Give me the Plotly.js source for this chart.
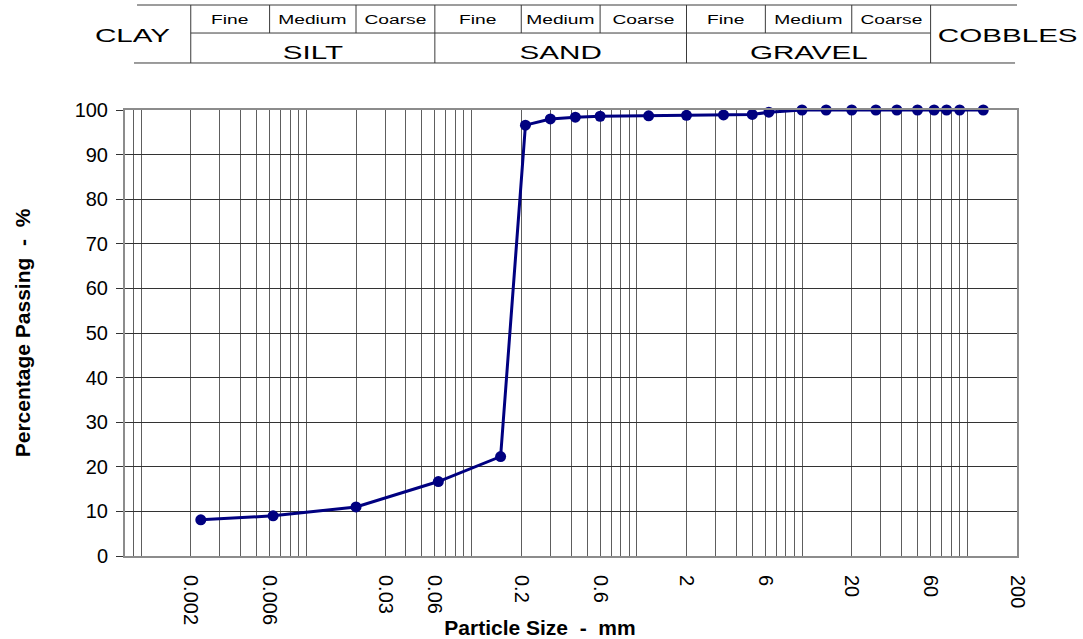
<!DOCTYPE html>
<html>
<head>
<meta charset="utf-8">
<script src="https://cdn.plot.ly/plotly-3.0.1.min.js"></script>
<style>
  html, body { margin: 0; padding: 0; background: #ffffff; }
  #chart { width: 1083px; height: 639px; }
</style>
</head>
<body>
<div id="chart"></div>
<script>
// ---- Data ----
const particleSize = [0.0023, 0.0063, 0.02, 0.063, 0.15, 0.212, 0.3, 0.425, 0.6, 1.18, 2, 3.35, 5, 6.3, 10, 14, 20, 28, 37.5, 50, 63, 75, 90, 125];
const percentPassing = [8.1, 9.0, 11.0, 16.7, 22.3, 96.6, 98.0, 98.4, 98.6, 98.7, 98.8, 98.9, 99.0, 99.5, 100, 100, 100, 100, 100, 100, 100, 100, 100, 100];

// x tick labels
const xTickValues = [0.002, 0.006, 0.03, 0.06, 0.2, 0.6, 2, 6, 20, 60, 200];
const xTickLabels = ["0.002", "0.006", "0.03", "0.06", "0.2", "0.6", "2", "6", "20", "60", "200"];

// y ticks
const yTickValues = [0, 10, 20, 30, 40, 50, 60, 70, 80, 90, 100];

// classification table
const mainBounds = [0.002, 0.06, 2, 60];              // clay|silt|sand|gravel|cobbles
const subBounds = [0.006, 0.02, 0.2, 0.6, 6, 20];      // fine|medium|coarse
const mainNames = ["SILT", "SAND", "GRAVEL"];
const subNames = ["Fine", "Medium", "Coarse"];
const edgeNames = ["CLAY", "COBBLES"];

// axis range
const xMin = 0.0008, xMax = 200;

// ---- gridline positions (1..9 x 10^k) ----
const gridVals = [];
for (let k = -4; k <= 2; k++) {
  for (let n = 1; n <= 9; n++) {
    const v = parseFloat((n * Math.pow(10, k)).toPrecision(6));
    if (v >= xMin - 1e-12 && v <= xMax + 1e-9) gridVals.push(v);
  }
}
const gridText = gridVals.map(v => {
  const i = xTickValues.findIndex(t => Math.abs(t - v) / t < 1e-6);
  return i >= 0 ? xTickLabels[i] : "";
});

const FONT = "Arial, 'Liberation Sans', sans-serif";

const trace = {
  x: particleSize,
  y: percentPassing,
  type: "scatter",
  mode: "lines+markers",
  line: { color: "#000080", width: 3 },
  marker: { color: "#000080", size: 11 },
  hoverinfo: "x+y",
  showlegend: false,
  cliponaxis: false
};

// table geometry in paper coords (plot area y: 110..556 px)
const yTop = 1.2354, yMid = 1.1726, yBot = 1.1054;
const lineStyle = { color: "#3a3a3a", width: 1 };
const shapes = [];
shapes.push({ type: "line", xref: "paper", yref: "paper", x0: 0.0135, x1: 1.0, y0: yTop, y1: yTop, line: lineStyle });
shapes.push({ type: "line", xref: "x", yref: "paper", x0: mainBounds[0], x1: mainBounds[3], y0: yMid, y1: yMid, line: lineStyle });
shapes.push({ type: "line", xref: "paper", yref: "paper", x0: 0.0101, x1: 0.9978, y0: yBot, y1: yBot, line: lineStyle });
mainBounds.forEach(b => shapes.push({ type: "line", xref: "x", yref: "paper", x0: b, x1: b, y0: yBot, y1: yTop, line: lineStyle }));
subBounds.forEach(b => shapes.push({ type: "line", xref: "x", yref: "paper", x0: b, x1: b, y0: yMid, y1: yTop, line: lineStyle }));

const annotations = [];
const lg = Math.log10;
for (let m = 0; m < 3; m++) {
  const a = mainBounds[m], b = mainBounds[m + 1];
  annotations.push({ xref: "x", yref: "paper", x: (lg(a) + lg(b)) / 2, y: 1.130, text: mainNames[m],
    showarrow: false, xanchor: "center", yanchor: "middle", font: { family: FONT, size: 18.5, color: "#000" } });
  const cells = [a, subBounds[2 * m], subBounds[2 * m + 1], b];
  for (let s = 0; s < 3; s++) {
    annotations.push({ xref: "x", yref: "paper", x: (lg(cells[s]) + lg(cells[s + 1])) / 2, y: 1.2018, text: subNames[s],
      showarrow: false, xanchor: "center", yanchor: "middle", font: { family: FONT, size: 12, color: "#000" } });
  }
}
annotations.push({ xref: "paper", yref: "paper", x: 0.0084, y: 1.168, text: edgeNames[0], showarrow: false,
  xanchor: "center", yanchor: "middle", font: { family: FONT, size: 18.5, color: "#000" } });
annotations.push({ xref: "paper", yref: "paper", x: 0.989, y: 1.168, text: edgeNames[1], showarrow: false,
  xanchor: "center", yanchor: "middle", font: { family: FONT, size: 18.5, color: "#000" } });

const layout = {
  width: 1083,
  height: 639,
  margin: { l: 125, r: 66, t: 110, b: 83 },
  paper_bgcolor: "#ffffff",
  plot_bgcolor: "#ffffff",
  font: { family: FONT, color: "#000" },
  showlegend: false,
  xaxis: {
    type: "log",
    range: [lg(xMin), lg(xMax)],
    tickmode: "array",
    tickvals: gridVals,
    ticktext: gridText,
    tickangle: 90,
    ticks: "",
    ticklabelstandoff: 13,
    tickfont: { family: FONT, size: 20, color: "#000" },
    showgrid: true,
    gridcolor: "#5e5e5e",
    gridwidth: 1,
    showline: true,
    linecolor: "#8c8c8c",
    linewidth: 2,
    mirror: true,
    zeroline: false,
    automargin: false,
    title: { text: "<b>Particle Size  -  mm</b>", font: { family: FONT, size: 21, color: "#000" } }
  },
  yaxis: {
    range: [0, 100],
    tickmode: "array",
    tickvals: yTickValues,
    ticks: "outside",
    ticklen: 7,
    tickcolor: "#333",
    tickwidth: 1,
    ticklabelstandoff: 4,
    tickfont: { family: FONT, size: 20, color: "#000" },
    showgrid: true,
    gridcolor: "#333333",
    gridwidth: 1,
    showline: true,
    linecolor: "#8c8c8c",
    linewidth: 2,
    mirror: true,
    zeroline: false,
    automargin: true,
    title: { text: "<b>Percentage Passing  -  %</b>", standoff: 38, font: { family: FONT, size: 21, color: "#000" } }
  },
  shapes: shapes,
  annotations: annotations
};

Plotly.newPlot("chart", [trace], layout, { displayModeBar: false, staticPlot: true }).then(gd => {
  gd.querySelectorAll(".annotation-text").forEach(t => {
    const w = t.getComputedTextLength();
    t.setAttribute("textLength", (w * 1.6).toFixed(1));
    t.setAttribute("lengthAdjust", "spacingAndGlyphs");
  });
  const xt = gd.querySelector(".g-xtitle");
  if (xt) xt.setAttribute("transform", "translate(-31,5)");
});
</script>
</body>
</html>
